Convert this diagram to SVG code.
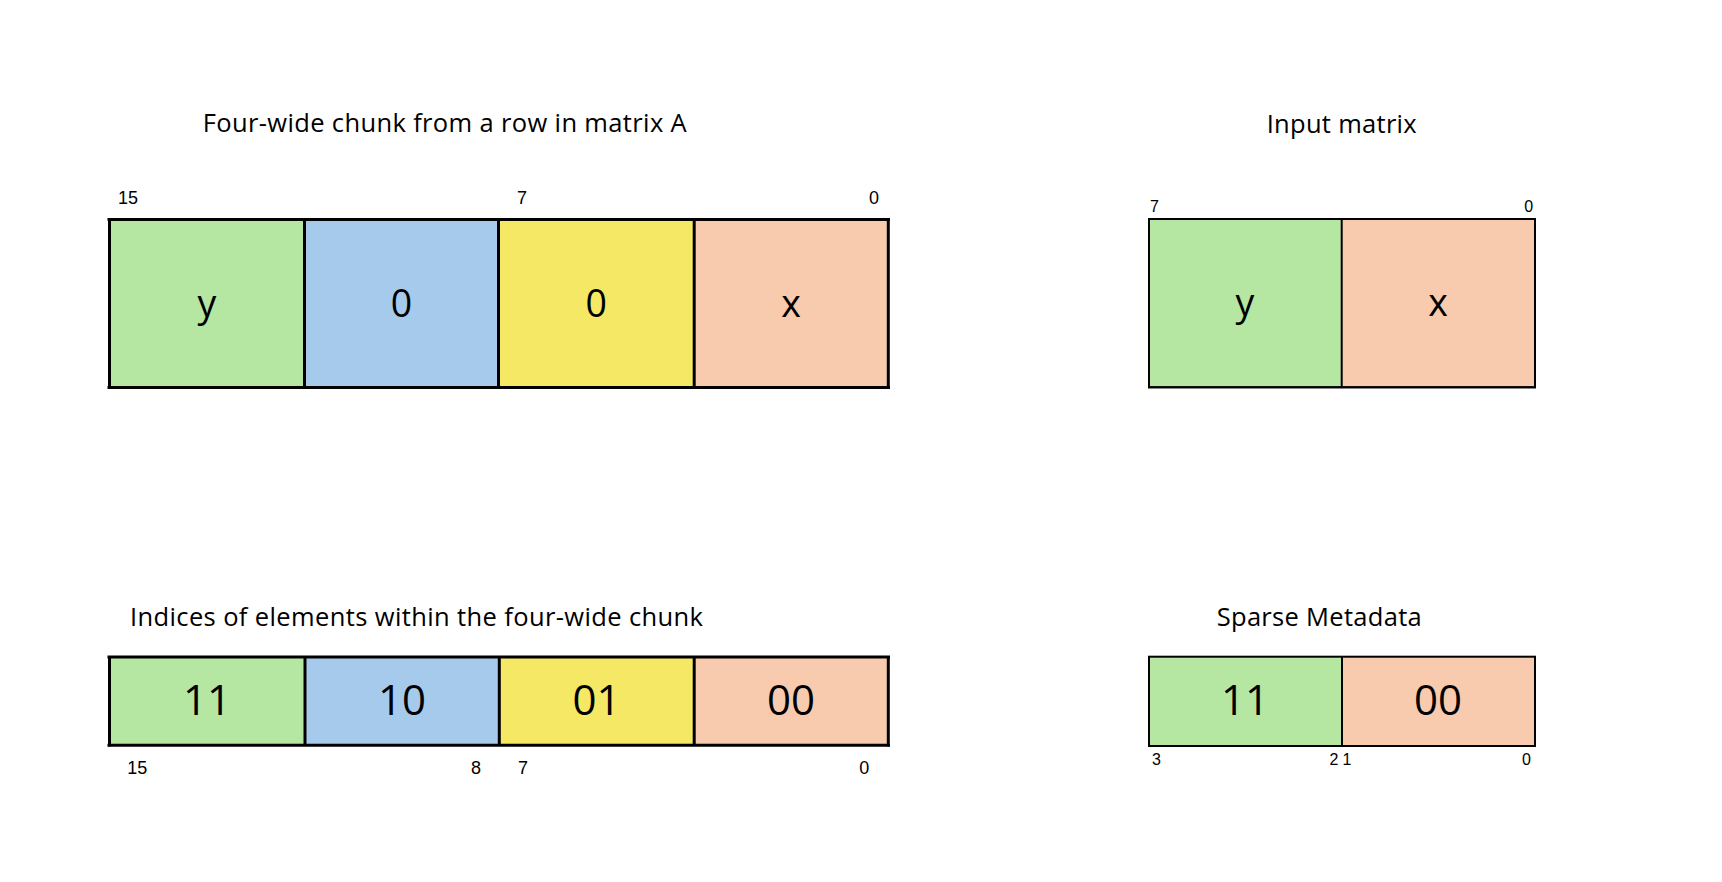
<svg xmlns="http://www.w3.org/2000/svg" width="1722" height="882" viewBox="0 0 1722 882">
<style>
  .title { font-family: "Open Sans", "Noto Sans", sans-serif; font-size: 25.5px; fill: #000; }
  .cell { font-family: "Open Sans", "Noto Sans", sans-serif; fill: #000; text-anchor: middle; }
  .big { font-size: 37.5px; }
  .mid { font-size: 42px; }
  .bit { font-family: "Liberation Sans", Arial, sans-serif; font-size: 18px; fill: #000; }
  .bits { font-family: "Liberation Sans", Arial, sans-serif; font-size: 16px; fill: #000; }
  .g { fill: #b5e6a2; }
  .b { fill: #a6caec; }
  .yl { fill: #f4e864; }
  .o { fill: #f8caae; }
  .thick { stroke: #000; stroke-width: 3; fill: none; }
  .thin { stroke: #000; stroke-width: 2; fill: none; }
</style>
<rect width="1722" height="882" fill="#fff"/>

<g id="chunk">
  <text class="title" x="202.7" y="131.7" textLength="484">Four-wide chunk from a row in matrix A</text>
  <rect class="g" x="109" y="219.5" width="195.5" height="168"/>
  <rect class="b" x="304.5" y="219.5" width="194" height="168"/>
  <rect class="yl" x="498.5" y="219.5" width="195.5" height="168"/>
  <rect class="o" x="694" y="219.5" width="194" height="168"/>
  <line class="thick" x1="107.5" y1="219.5" x2="890" y2="219.5" stroke-width="2.5"/>
  <line class="thick" x1="107.5" y1="387.5" x2="890" y2="387.5" stroke-width="2.5"/>
  <line class="thick" x1="109.5" y1="218.5" x2="109.5" y2="388.5" stroke-width="4"/>
  <line class="thick" x1="888.3" y1="218.5" x2="888.3" y2="388.5" stroke-width="3.3"/>
  <line class="thick" x1="304.5" y1="219.5" x2="304.5" y2="387.5"/>
  <line class="thick" x1="498.5" y1="219.5" x2="498.5" y2="387.5"/>
  <line class="thick" x1="694.2" y1="219.5" x2="694.2" y2="387.5"/>
  <text class="cell big" x="207" y="316.7">y</text>
  <text class="cell big" x="401.5" y="316.7">0</text>
  <text class="cell big" x="596.3" y="316.7">0</text>
  <text class="cell big" x="791" y="316.7">x</text>
  <text class="bit" x="118" y="203.5">15</text>
  <text class="bit" x="517" y="203.5">7</text>
  <text class="bit" x="869" y="203.5">0</text>
</g>

<g id="input-matrix">
  <text class="title" x="1266.7" y="133.3" textLength="150">Input matrix</text>
  <rect class="g" x="1149" y="219" width="192.7" height="168.3"/>
  <rect class="o" x="1341.7" y="219" width="193.3" height="168.3"/>
  <rect class="thin" x="1149" y="219" width="386" height="168.3"/>
  <line class="thin" x1="1148" y1="387.3" x2="1536" y2="387.3" stroke-width="2.5"/>
  <line class="thin" x1="1341.7" y1="219" x2="1341.7" y2="387.3"/>
  <text class="cell big" x="1245" y="316">y</text>
  <text class="cell big" x="1438" y="316">x</text>
  <text class="bits" x="1150" y="211.7">7</text>
  <text class="bits" x="1524.3" y="211.7">0</text>
</g>

<g id="indices">
  <text class="title" x="130" y="626" textLength="573">Indices of elements within the four-wide chunk</text>
  <rect class="g" x="109" y="656.7" width="196" height="88.8"/>
  <rect class="b" x="305" y="656.7" width="194.3" height="88.8"/>
  <rect class="yl" x="499.3" y="656.7" width="194.7" height="88.8"/>
  <rect class="o" x="694" y="656.7" width="194.3" height="88.8"/>
  <line class="thick" x1="107.5" y1="657" x2="890" y2="657" stroke-width="2.5"/>
  <line class="thick" x1="107.5" y1="745.2" x2="890" y2="745.2" stroke-width="3"/>
  <line class="thick" x1="109.5" y1="656" x2="109.5" y2="746.5" stroke-width="4"/>
  <line class="thick" x1="888.3" y1="656" x2="888.3" y2="746.5" stroke-width="3.3"/>
  <line class="thick" x1="305" y1="657" x2="305" y2="745"/>
  <line class="thick" x1="499.3" y1="657" x2="499.3" y2="745"/>
  <line class="thick" x1="694.2" y1="657" x2="694.2" y2="745"/>
  <text class="cell mid" x="207" y="715">11</text>
  <text class="cell mid" x="402" y="715">10</text>
  <text class="cell mid" x="596.6" y="715">01</text>
  <text class="cell mid" x="791" y="715">00</text>
  <text class="bit" x="127.3" y="774">15</text>
  <text class="bit" x="471" y="774">8</text>
  <text class="bit" x="518" y="774">7</text>
  <text class="bit" x="859.3" y="774">0</text>
</g>

<g id="sparse-metadata">
  <text class="title" x="1216.7" y="626" textLength="205">Sparse Metadata</text>
  <rect class="g" x="1149" y="656.7" width="193" height="89.3"/>
  <rect class="o" x="1342" y="656.7" width="193" height="89.3"/>
  <rect class="thin" x="1149" y="656.7" width="386" height="89.3"/>
  <line class="thin" x1="1148" y1="746" x2="1536" y2="746" stroke-width="2.5"/>
  <line class="thin" x1="1342" y1="656.7" x2="1342" y2="746"/>
  <text class="cell mid" x="1245" y="715">11</text>
  <text class="cell mid" x="1438" y="715">00</text>
  <text class="bits" x="1152" y="765">3</text>
  <text class="bits" x="1329.4" y="765">2</text>
  <text class="bits" x="1342.6" y="765">1</text>
  <text class="bits" x="1522" y="765">0</text>
</g>

<g id="connectors"/>
</svg>
